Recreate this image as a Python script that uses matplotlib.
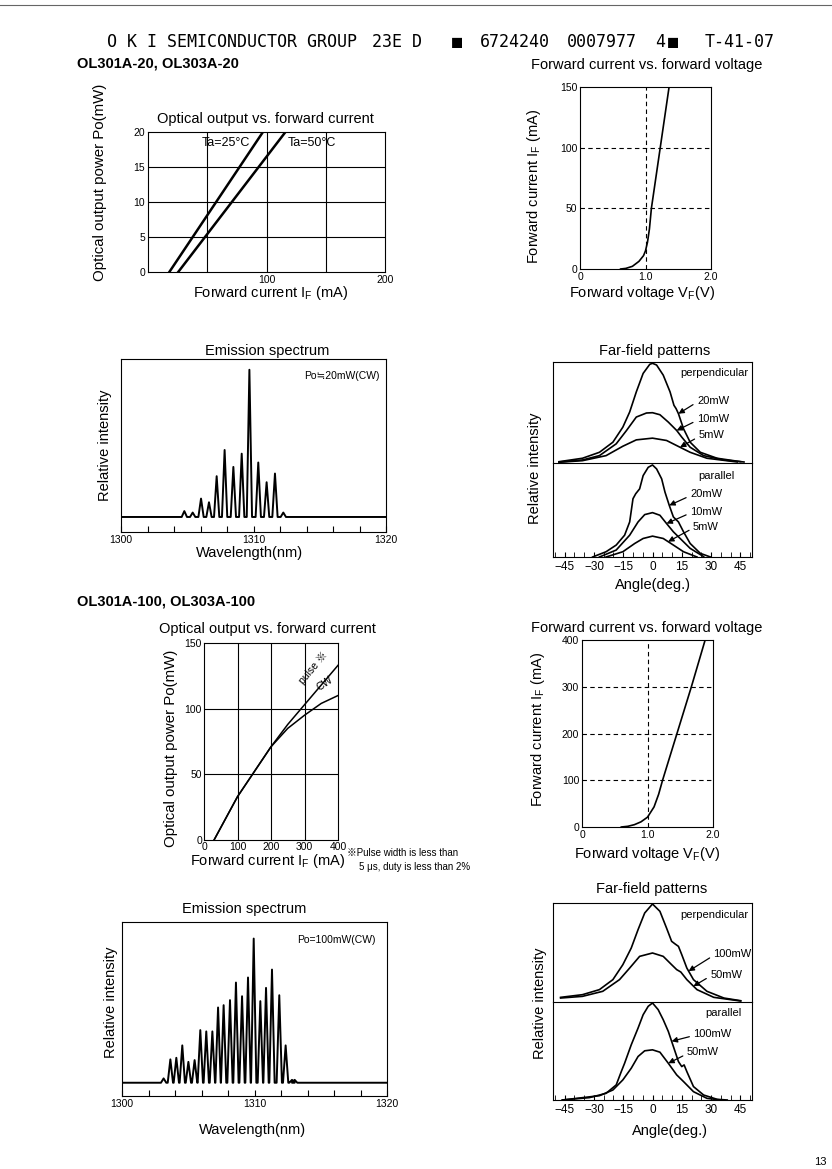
import numpy as np
import matplotlib
matplotlib.use('Agg')
import matplotlib.pyplot as plt
from matplotlib.lines import Line2D

plt.rcParams['font.family'] = ['Liberation Sans', 'Noto Sans CJK JP', 'DejaVu Sans']
plt.rcParams['mathtext.fontset'] = 'custom'
plt.rcParams['mathtext.rm'] = 'Liberation Sans'
plt.rcParams['mathtext.it'] = 'Liberation Sans'
plt.rcParams['axes.linewidth'] = 0.8

W, H = 832, 1169

# -----------------------------
# OL301A-20 data
# -----------------------------
po_20 = [0, 20]
if_25c = [18, 97]
if_50c = [25.5, 116]

vf_20 = [0.62, 0.7, 0.8, 0.9, 0.97, 1.0, 1.03, 1.06, 1.09, 1.225, 1.36]
if_20 = [0, 0.5, 2.2, 6.3, 11, 15, 22, 33, 50, 100, 150]

spec20_wl = [1304.78, 1305.41, 1306.04, 1306.64, 1307.22, 1307.82, 1308.48,
             1309.11, 1309.69, 1310.36, 1310.99, 1311.62, 1312.25]
spec20_int = [0.04, 0.03, 0.125, 0.10, 0.277, 0.455, 0.34, 0.43, 1.0,
              0.37, 0.236, 0.295, 0.03]

ff20_perp20_ang = [-47.9, -35.9, -27.2, -20.3, -15.2, -11.7, -8.3, -4.8, -1.4, 0, 2.1,
                   5.5, 9.0, 11.0, 12.1, 13.3, 15.9, 19.3, 24.5, 33.1, 45.2]
ff20_perp20 = [0.013, 0.047, 0.106, 0.206, 0.355, 0.505, 0.704, 0.887, 0.977, 0.987, 0.97,
               0.87, 0.704, 0.571, 0.538, 0.488, 0.339, 0.206, 0.106, 0.047, 0.013]
ff20_perp10_ang = [-47.9, -35.9, -27.2, -18.6, -13.4, -8.3, -3.1, 0, 3.8, 8.1, 12.4,
                   15.0, 19.3, 26.2, 36.6, 46.9]
ff20_perp10 = [0.01, 0.03, 0.073, 0.19, 0.32, 0.455, 0.495, 0.498, 0.478, 0.405, 0.322,
               0.256, 0.156, 0.073, 0.03, 0.01]
ff20_perp5_ang = [-47.9, -35.9, -23.8, -15.2, -8.3, 0, 7.2, 14.1, 19.3, 27.9, 43.4]
ff20_perp5 = [0.007, 0.023, 0.073, 0.166, 0.229, 0.246, 0.223, 0.156, 0.106, 0.047, 0.01]

ff20_par20_ang = [-30.7, -23.8, -18.6, -14.3, -11.7, -10.0, -8.6, -6.6, -4.8, -2.2, 0, 2.1,
                  4.7, 6.4, 8.6, 10.7, 13.3, 15.9, 19.3, 24.5, 29.7]
ff20_par20 = [0, 0.056, 0.127, 0.232, 0.373, 0.62, 0.673, 0.725, 0.866, 0.954, 0.979, 0.937,
              0.831, 0.69, 0.549, 0.426, 0.373, 0.268, 0.144, 0.039, 0]
ff20_par10_ang = [-27.2, -18.6, -11.7, -7.4, -4.0, 0, 3.8, 7.2, 10.7, 15.0, 19.3, 26.2]
ff20_par10 = [0, 0.074, 0.232, 0.373, 0.451, 0.472, 0.444, 0.356, 0.268, 0.18, 0.092, 0.004]
ff20_par5_ang = [-23.8, -15.2, -9.1, -4.8, 0, 5.5, 10.7, 15.9, 22.8]
ff20_par5 = [0, 0.056, 0.144, 0.197, 0.222, 0.197, 0.127, 0.056, 0]

# -----------------------------
# OL301A-100 data
# -----------------------------
if_100 = [30, 100, 150, 200, 250, 300, 350, 400]
po_cw = [0, 33, 52, 71, 85, 95, 104, 110]
po_pulse = [0, 33, 52, 71, 88, 103, 118, 133]

vf_100 = [0.6, 0.7, 0.8, 0.9, 1.0, 1.1, 1.17, 1.23, 1.45, 1.67, 1.88]
if_100v = [0, 1.5, 5, 11, 21, 43, 70, 100, 200, 300, 400]

spec100_wl = [1303.14, 1303.65, 1304.10, 1304.55, 1305.01, 1305.48, 1305.91, 1306.36,
              1306.82, 1307.25, 1307.67, 1308.15, 1308.60, 1309.06, 1309.51, 1309.94,
              1310.44, 1310.87, 1311.32, 1311.87, 1312.35, 1312.83, 1313.03]
spec100_int = [0.03, 0.162, 0.173, 0.259, 0.145, 0.157, 0.365, 0.356, 0.356, 0.522,
               0.538, 0.573, 0.695, 0.600, 0.730, 1.0, 0.566, 0.658, 0.785, 0.607,
               0.259, 0.02, 0.02]

ff100_perp100_ang = [-47.1, -35.9, -27.2, -20.3, -15.2, -10.9, -7.4, -4.0, 0, 3.8, 7.2, 9.8,
                     11.6, 13.3, 15.0, 17.6, 21.0, 27.9, 36.6, 45.2]
ff100_perp100 = [0.047, 0.074, 0.125, 0.226, 0.377, 0.545, 0.731, 0.899, 0.99, 0.916, 0.747,
                 0.613, 0.586, 0.562, 0.478, 0.343, 0.226, 0.108, 0.04, 0.013]
ff100_perp50_ang = [-47.1, -35.9, -25.5, -16.9, -11.7, -6.6, 0, 5.5, 9.8, 12.4, 14.5, 17.6,
                    22.8, 31.4, 45.2]
ff100_perp50 = [0.04, 0.057, 0.108, 0.226, 0.343, 0.461, 0.495, 0.461, 0.377, 0.327, 0.303,
                0.226, 0.125, 0.047, 0.01]
ff100_par100_ang = [-46.2, -32.4, -23.8, -18.6, -16.0, -14.3, -10.9, -7.4, -4.8, -2.2, 0, 2.9,
                    5.5, 8.1, 10.7, 13.3, 15.0, 16.2, 17.6, 21.0, 26.2, 33.1, 38.3]
ff100_par100 = [0, 0.024, 0.068, 0.154, 0.29, 0.375, 0.563, 0.734, 0.87, 0.956, 0.99, 0.922,
                0.819, 0.70, 0.546, 0.392, 0.341, 0.358, 0.29, 0.137, 0.051, 0.007, 0]
ff100_par50_ang = [-46.2, -27.2, -20.3, -15.2, -10.9, -7.4, -4.0, 0, 3.8, 8.1, 12.4, 15.9,
                   21.0, 27.9, 34.8]
ff100_par50 = [0, 0.044, 0.102, 0.205, 0.324, 0.444, 0.502, 0.512, 0.488, 0.375, 0.256,
               0.188, 0.085, 0.017, 0]

angle_ticks = [-45, -30, -15, 0, 15, 30, 45]

# -----------------------------
# Helpers
# -----------------------------
fig = plt.figure(figsize=(W / 100, H / 100), dpi=100)


def box(x0, y0, x1, y1):
    return [x0 / W, 1 - y1 / H, (x1 - x0) / W, (y1 - y0) / H]


def put(x, y, s, **kw):
    kw.setdefault('ha', 'center')
    kw.setdefault('va', 'center')
    fig.text(x / W, 1 - y / H, s, **kw)


def spectrum_line(peaks, heights, hw):
    xs, ys = [1300], [0]
    for p, h in zip(peaks, heights):
        xs += [p - hw, p, p + hw]
        ys += [0, h, 0]
    xs.append(1320)
    ys.append(0)
    return xs, ys


def spectrum_axes(ax, wl, inten, hw, ylim, note, note_xy):
    xs, ys = spectrum_line(wl, inten, hw)
    ax.plot(xs, ys, color='black', lw=1.4)
    ax.set_xlim(1300, 1320)
    ax.set_ylim(*ylim)
    ax.set_yticks([])
    ticks = list(range(1300, 1321, 2))
    ax.set_xticks(ticks)
    ax.set_xticklabels([str(t) if t % 10 == 0 else '' for t in ticks])
    ax.tick_params(axis='x', direction='in', length=4, labelsize=7.5, pad=2)
    ax.text(note_xy[0], note_xy[1], note, transform=ax.transAxes, fontsize=7.5,
            ha='left', va='center')


def farfield_axes(top, bot, curves_top, curves_bot):
    for ax in (top, bot):
        ax.set_xlim(-51, 51)
        ax.set_ylim(0, 1.0)
        ax.set_yticks([])
    top.set_xticks([])
    for a, v in curves_top:
        top.plot(a, v, color='black', lw=1.2)
    for a, v in curves_bot:
        bot.plot(a, v, color='black', lw=1.2)
    bot.set_xticks(angle_ticks)
    bot.set_xticks(range(-50, 51, 5), minor=True)
    bot.tick_params(axis='x', which='both', direction='in', length=3.5, labelsize=8.5, pad=3)
    top.spines['bottom'].set_visible(False)


def arrow_label(ax, text, txy, ang, curve_a, curve_v):
    head = (ang, np.interp(ang, curve_a, curve_v))
    ax.annotate(text, xy=head, xytext=txy, fontsize=8, ha='left', va='center',
                arrowprops=dict(arrowstyle='-|>', color='black', lw=0.9,
                                mutation_scale=8, shrinkA=1, shrinkB=0,
                                relpos=(0, 0.35)))


# -----------------------------
# Page header
# -----------------------------
fig.add_artist(Line2D([0, 1], [1 - 5 / H, 1 - 5 / H], color='0.4', lw=0.8))
hdr = dict(family='DejaVu Sans Mono', fontsize=12, ha='left', va='center')
put(107, 42, 'O K I SEMICONDUCTOR GROUP', **hdr)
put(372, 42, '23E D', **hdr)
put(452, 42, '\u25A0', **hdr)
put(480, 42, '6724240', **hdr)
put(567, 42, '0007977', **hdr)
put(655, 42, '4', **hdr)
put(668, 42, '\u25A0', **hdr)
put(705, 42, 'T-41-07', **hdr)
put(77, 64, 'OL301A-20, OL303A-20', fontsize=10.5, weight='bold', ha='left')
put(77, 602, 'OL301A-100, OL303A-100', fontsize=10.5, weight='bold', ha='left')
put(820, 1162, '13', fontsize=8)

# -----------------------------
# Optical output vs forward current (20)
# -----------------------------
ax1 = fig.add_axes(box(148, 132, 385, 272))
for x in [50, 100, 150]:
    ax1.axvline(x, color='black', lw=0.8)
for y in [5, 10, 15]:
    ax1.axhline(y, color='black', lw=0.8)
ax1.plot(if_25c, po_20, color='black', lw=1.8)
ax1.plot(if_50c, po_20, color='black', lw=1.8)
ax1.set_xlim(0, 200)
ax1.set_ylim(0, 20)
ax1.set_xticks([100, 200])
ax1.set_yticks([0, 5, 10, 15, 20])
ax1.tick_params(length=0, labelsize=7.5, pad=2)
ax1.text(45.5, 18.4, 'Ta=25°C', fontsize=9, ha='left', va='center')
ax1.text(117.5, 18.4, 'Ta=50°C', fontsize=9, ha='left', va='center')
put(265, 119, 'Optical output vs. forward current', fontsize=10.5)
put(100, 182, 'Optical output power Po(mW)', fontsize=10.8, rotation=90)
put(270, 293, r'Forward current I$_\mathrm{F}$ (mA)', fontsize=10.5)

# -----------------------------
# Forward current vs forward voltage (20)
# -----------------------------
ax2 = fig.add_axes(box(580, 87, 711, 269))
ax2.axvline(1.0, color='black', lw=0.8, ls=(0, (4, 3)))
for y in [50, 100]:
    ax2.axhline(y, color='black', lw=0.8, ls=(0, (4, 3)))
ax2.plot(vf_20, if_20, color='black', lw=1.2)
ax2.set_xlim(0, 2)
ax2.set_ylim(0, 150)
ax2.set_xticks([0, 1, 2])
ax2.set_xticklabels(['0', '1.0', '2.0'])
ax2.set_yticks([0, 50, 100, 150])
ax2.tick_params(length=0, labelsize=7.5, pad=2)
put(647, 65, 'Forward current vs. forward voltage', fontsize=10.5)
put(534, 187, r'Forward current I$_\mathrm{F}$ (mA)', fontsize=10.5, rotation=90)
put(642, 293, r'Forward voltage V$_\mathrm{F}$(V)', fontsize=10.5)

# -----------------------------
# Emission spectrum (20 mW)
# -----------------------------
ax3 = fig.add_axes(box(121, 359, 386, 532))
spectrum_axes(ax3, spec20_wl, spec20_int, 0.2, (-0.102, 1.073),
              'Po\u225220mW(CW)', (0.69, 0.90))
put(267, 351, 'Emission spectrum', fontsize=10.5)
put(105, 445, 'Relative intensity', fontsize=10.5, rotation=90)
put(250, 553, 'Wavelength(nm)', fontsize=10.5)

# -----------------------------
# Far-field patterns (20 mW)
# -----------------------------
ax4t = fig.add_axes(box(553, 362, 752, 463))
ax4b = fig.add_axes(box(553, 463, 752, 557))
farfield_axes(ax4t, ax4b,
              [(ff20_perp20_ang, ff20_perp20), (ff20_perp10_ang, ff20_perp10),
               (ff20_perp5_ang, ff20_perp5)],
              [(ff20_par20_ang, ff20_par20), (ff20_par10_ang, ff20_par10),
               (ff20_par5_ang, ff20_par5)])
ax4t.text(49, 0.89, 'perpendicular', fontsize=8, ha='right', va='center')
ax4b.text(23.4, 0.866, 'parallel', fontsize=8, ha='left', va='center')
arrow_label(ax4t, '20mW', (22.8, 0.617), 13.3, ff20_perp20_ang, ff20_perp20)
arrow_label(ax4t, '10mW', (22.8, 0.436), 12.4, ff20_perp10_ang, ff20_perp10)
arrow_label(ax4t, '5mW', (23.6, 0.274), 14.1, ff20_perp5_ang, ff20_perp5)
arrow_label(ax4b, '20mW', (19.3, 0.667), 8.6, ff20_par20_ang, ff20_par20)
arrow_label(ax4b, '10mW', (19.3, 0.483), 7.2, ff20_par10_ang, ff20_par10)
arrow_label(ax4b, '5mW', (20.8, 0.323), 8.0, ff20_par5_ang, ff20_par5)
put(655, 351, 'Far-field patterns', fontsize=10.5)
put(535, 468, 'Relative intensity', fontsize=10.5, rotation=90)
put(653, 585, 'Angle(deg.)', fontsize=10.5)

# -----------------------------
# Optical output vs forward current (100)
# -----------------------------
ax5 = fig.add_axes(box(204, 643, 338, 840))
for x in [100, 200, 300]:
    ax5.axvline(x, color='black', lw=0.8)
for y in [50, 100]:
    ax5.axhline(y, color='black', lw=0.8)
ax5.plot(if_100, po_pulse, color='black', lw=1.1)
ax5.plot(if_100, po_cw, color='black', lw=1.1)
ax5.set_xlim(0, 400)
ax5.set_ylim(0, 150)
ax5.set_xticks([0, 100, 200, 300, 400])
ax5.set_yticks([0, 50, 100, 150])
ax5.tick_params(length=0, labelsize=7.5, pad=1.5)
ax5.text(327, 131, 'pulse \u203B', fontsize=7.5, rotation=50, ha='center', va='center')
ax5.text(360, 119, 'CW', fontsize=7.5, rotation=35, ha='center', va='center')
put(267, 629, 'Optical output vs. forward current', fontsize=10.5)
put(171, 748, 'Optical output power Po(mW)', fontsize=10.8, rotation=90)
put(267, 861, r'Forward current I$_\mathrm{F}$ (mA)', fontsize=10.5)
put(347, 853, '\u203BPulse width is less than', fontsize=7, ha='left')
put(359, 867, '5 \u03bcs, duty is less than 2%', fontsize=7, ha='left')

# -----------------------------
# Forward current vs forward voltage (100)
# -----------------------------
ax6 = fig.add_axes(box(582, 640, 713, 827))
ax6.axvline(1.0, color='black', lw=0.8, ls=(0, (4, 3)))
for y in [100, 200, 300]:
    ax6.axhline(y, color='black', lw=0.8, ls=(0, (4, 3)))
ax6.plot(vf_100, if_100v, color='black', lw=1.2)
ax6.set_xlim(0, 2)
ax6.set_ylim(0, 400)
ax6.set_xticks([0, 1, 2])
ax6.set_xticklabels(['0', '1.0', '2.0'])
ax6.set_yticks([0, 100, 200, 300, 400])
ax6.tick_params(length=0, labelsize=7.5, pad=2)
put(647, 628, 'Forward current vs. forward voltage', fontsize=10.5)
put(538, 730, r'Forward current I$_\mathrm{F}$ (mA)', fontsize=10.5, rotation=90)
put(647, 854, r'Forward voltage V$_\mathrm{F}$(V)', fontsize=10.5)

# -----------------------------
# Emission spectrum (100 mW)
# -----------------------------
ax7 = fig.add_axes(box(122, 922, 387, 1096))
spectrum_axes(ax7, spec100_wl, spec100_int, 0.2, (-0.092, 1.115),
              'Po=100mW(CW)', (0.66, 0.897))
put(244, 909, 'Emission spectrum', fontsize=10.5)
put(111, 1002, 'Relative intensity', fontsize=10.5, rotation=90)
put(253, 1130, 'Wavelength(nm)', fontsize=10.5)

# -----------------------------
# Far-field patterns (100 mW)
# -----------------------------
ax8t = fig.add_axes(box(553, 903, 752, 1002))
ax8b = fig.add_axes(box(553, 1002, 752, 1100))
farfield_axes(ax8t, ax8b,
              [(ff100_perp100_ang, ff100_perp100), (ff100_perp50_ang, ff100_perp50)],
              [(ff100_par100_ang, ff100_par100), (ff100_par50_ang, ff100_par50)])
ax8t.text(49, 0.88, 'perpendicular', fontsize=8, ha='right', va='center')
ax8b.text(27, 0.887, 'parallel', fontsize=8, ha='left', va='center')
arrow_label(ax8t, '100mW', (31.3, 0.485), 18.5, ff100_perp100_ang, ff100_perp100)
arrow_label(ax8t, '50mW', (29.6, 0.276), 21.0, ff100_perp50_ang, ff100_perp50)
arrow_label(ax8b, '100mW', (21.0, 0.672), 9.8, ff100_par100_ang, ff100_par100)
arrow_label(ax8b, '50mW', (17.6, 0.485), 8.1, ff100_par50_ang, ff100_par50)
put(652, 889, 'Far-field patterns', fontsize=10.5)
put(540, 1003, 'Relative intensity', fontsize=10.5, rotation=90)
put(670, 1131, 'Angle(deg.)', fontsize=10.5)

plt.savefig('out.png', dpi=100)
plt.close()
